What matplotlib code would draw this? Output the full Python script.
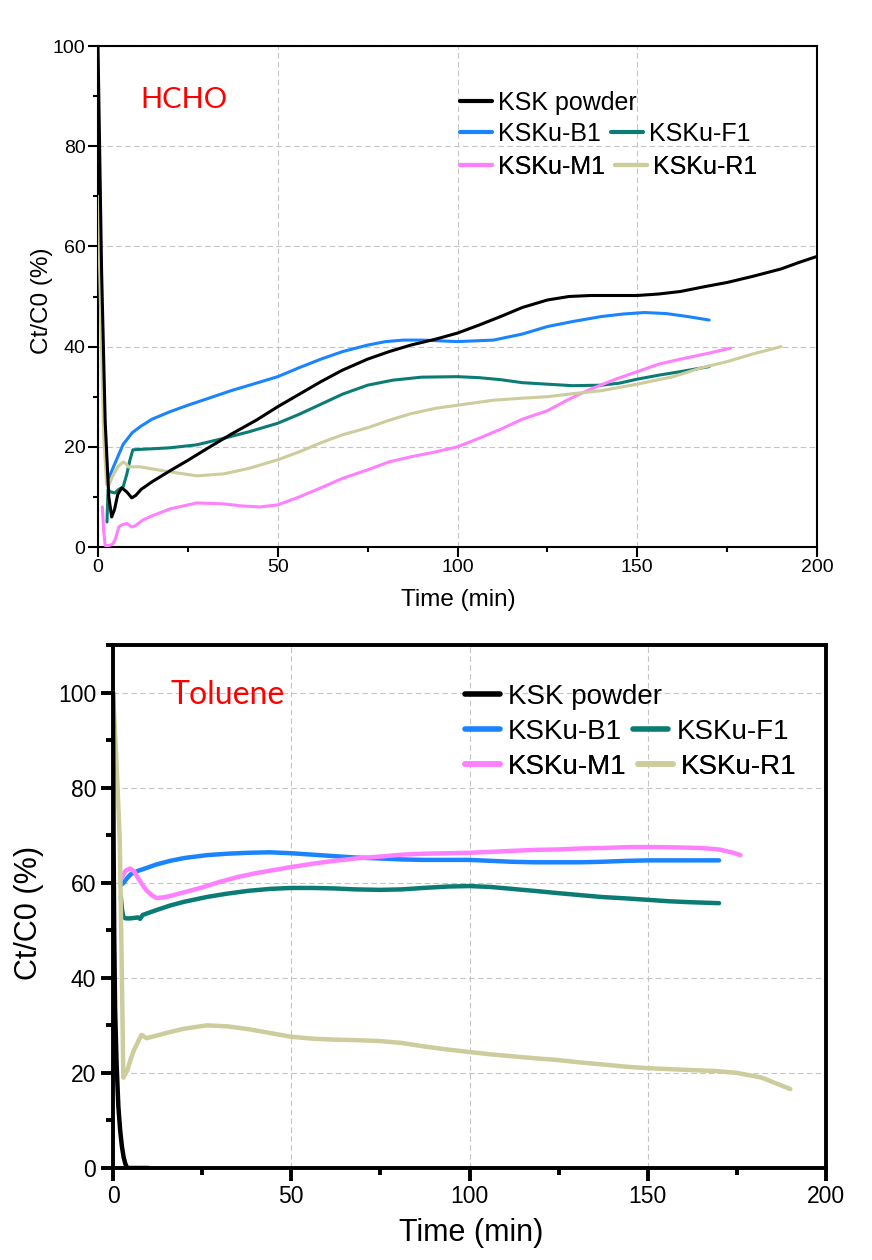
import matplotlib.pyplot as plt
from matplotlib.ticker import MultipleLocator
from matplotlib.lines import Line2D

plt.rcParams['font.family'] = ['Liberation Sans', 'DejaVu Sans']

names = ['KSK powder', 'KSKu-B1', 'KSKu-F1', 'KSKu-M1', 'KSKu-R1']
colors = ['#000000', '#1a84ff', '#0b7c74', '#ff80ff', '#cccc9c']

# ---------- HCHO (top) ----------
hcho_ksk_t = [0, 1, 2, 3, 3.8, 4.6, 5.5, 6.6, 8, 9.4, 10.5, 12, 15, 20, 25, 30, 37, 44, 50, 56, 62, 68, 75,
              81, 87, 94, 100, 106, 112, 118, 125, 131, 137, 144, 150, 156, 162, 169, 175, 182, 190, 195, 200]
hcho_ksk_v = [100, 55, 25, 10, 6, 7.5, 10.5, 11.8, 11, 9.8, 10.3, 11.5, 13, 15.2, 17.3, 19.5, 22.5, 25.3, 28, 30.5,
              33, 35.3, 37.5, 39, 40.3, 41.5, 42.7, 44.3, 46, 47.8, 49.3, 50, 50.2, 50.2, 50.2, 50.5, 51, 52, 52.8,
              54, 55.5, 56.8, 58]

hcho_b1_t = [2.8, 4, 5.5, 7, 8, 9.5, 11.7, 15, 20, 25, 30, 37, 44, 50, 56, 62, 68, 75, 80, 85, 90, 100, 110,
             118, 125, 132, 140, 146, 152, 158, 164, 170]
hcho_b1_v = [13.4, 15.5, 18, 20.5, 21.4, 22.8, 24, 25.5, 27, 28.3, 29.5, 31.2, 32.7, 34, 35.8, 37.5, 39, 40.3,
             41, 41.3, 41.3, 41, 41.3, 42.5, 44, 45, 46, 46.5, 46.8, 46.6, 46, 45.3]

hcho_f1_t = [2.5, 2.8, 3.5, 4.7, 5.8, 7, 8, 8.9, 9.7, 12, 15, 20, 27.5, 35, 42, 50, 56, 62, 68, 75, 82, 90,
             100, 106, 112, 118, 125, 132, 140, 145, 150, 156, 162, 170]
hcho_f1_v = [5, 11.4, 11, 10.8, 11.5, 12, 14.5, 17.4, 19.4, 19.5, 19.6, 19.8, 20.4, 21.7, 23, 24.7, 26.5, 28.5,
             30.5, 32.3, 33.3, 33.9, 34, 33.8, 33.4, 32.8, 32.5, 32.2, 32.3, 32.7, 33.5, 34.3, 35, 36]

hcho_m1_t = [1.2, 1.6, 2, 3, 4, 4.8, 5.8, 6.6, 8, 9.4, 10.5, 12.5, 15, 20, 27.5, 35, 40, 45, 50, 56, 62, 68,
             75, 81, 87, 94, 100, 106, 112, 118, 125, 131, 137, 144, 150, 156, 162, 170, 176]
hcho_m1_v = [8, 3, 0.3, 0.3, 0.5, 1.5, 4, 4.4, 4.7, 4.0, 4.3, 5.4, 6.2, 7.6, 8.8, 8.6, 8.2, 8, 8.4, 10, 11.8,
             13.7, 15.4, 17, 18, 19, 20, 21.7, 23.5, 25.5, 27.2, 29.5, 31.5, 33.5, 35, 36.5, 37.5, 38.7, 39.7]

hcho_r1_t = [0, 0.8, 1.6, 2.4, 3, 4, 5.5, 7, 8, 8.4, 10, 11.7, 15, 20, 27.5, 35, 42, 50, 56, 62, 68, 75, 81,
             87, 94, 100, 110, 118, 125, 132, 140, 150, 160, 168, 175, 182, 190]
hcho_r1_v = [70, 45, 22, 12.5, 12.3, 14, 16, 17, 16.5, 16, 16, 16, 15.6, 15, 14.2, 14.6, 15.7, 17.4, 19, 20.8,
             22.4, 23.8, 25.3, 26.6, 27.7, 28.3, 29.3, 29.7, 30, 30.6, 31.2, 32.5, 34, 35.8, 37, 38.5, 40]

# ---------- Toluene (bottom) ----------
tol_ksk_t = [0, 0.15, 0.35, 0.6, 1, 1.5, 2, 2.5, 3, 3.5, 4, 10]
tol_ksk_v = [100, 70, 48, 33, 22, 13, 8, 4.5, 2.2, 0.8, 0, 0]

tol_b1_t = [2.2, 3, 4, 5, 6, 7, 9, 12, 16, 20, 26.3, 32, 38, 44, 50, 56, 62, 68, 75, 81, 87, 94, 100, 106,
            112, 118, 125, 131, 137, 144, 150, 156, 162, 170]
tol_b1_v = [59.5, 60, 61, 61.8, 62.2, 62.5, 63, 63.8, 64.6, 65.2, 65.8, 66.1, 66.3, 66.4, 66.2, 65.9, 65.6,
            65.3, 65.1, 64.9, 64.8, 64.8, 64.8, 64.6, 64.4, 64.3, 64.3, 64.3, 64.4, 64.6, 64.7, 64.7, 64.7, 64.7]

tol_f1_t = [2.2, 2.5, 2.9, 3.5, 4.8, 6, 7, 7.6, 8.3, 9, 12, 16, 20, 26.3, 32, 38, 44, 50, 56, 62, 68, 75, 81,
            87, 94, 100, 106, 112, 118, 125, 131, 137, 144, 150, 156, 162, 170]
tol_f1_v = [57, 54.5, 52.8, 52.5, 52.5, 52.6, 52.7, 52.4, 53.2, 53.4, 54.2, 55.2, 56, 57, 57.7, 58.3, 58.7,
            58.9, 58.9, 58.8, 58.6, 58.5, 58.6, 58.9, 59.2, 59.3, 59.1, 58.7, 58.3, 57.8, 57.4, 57, 56.7, 56.4,
            56.1, 55.9, 55.7]

tol_m1_t = [2.4, 3.5, 4.8, 6, 7, 8.3, 9.5, 11, 12.2, 14, 16, 20, 25, 30, 35, 40, 50, 56, 62, 68, 75, 81, 87,
            94, 100, 106, 112, 118, 125, 131, 137, 145, 152, 160, 165, 170, 174, 176]
tol_m1_v = [61, 62.5, 63, 62.3, 61, 59.5, 58.3, 57.3, 56.8, 56.9, 57.2, 58, 59, 60.2, 61.2, 62, 63.3, 64,
            64.6, 65.1, 65.5, 65.9, 66.1, 66.2, 66.3, 66.5, 66.7, 66.9, 67, 67.2, 67.3, 67.5, 67.5, 67.4, 67.3,
            67, 66.3, 65.8]

tol_r1_t = [0, 1, 1.9, 2.4, 2.9, 4, 5, 6, 7, 8, 9.4, 12, 16, 20, 26.3, 32, 38, 44, 50, 56, 62, 68, 75, 81,
            87, 94, 100, 106, 112, 118, 125, 131, 137, 144, 150, 156, 162, 169, 175, 182, 190]
tol_r1_v = [100, 85, 69, 45, 19, 20.5, 23, 25, 26.5, 28, 27.3, 27.8, 28.6, 29.3, 30, 29.8, 29.2, 28.4, 27.6,
            27.2, 27.0, 26.9, 26.7, 26.3, 25.6, 24.9, 24.4, 23.9, 23.5, 23.1, 22.7, 22.2, 21.8, 21.3, 21, 20.8,
            20.6, 20.4, 20, 19, 16.6]

hcho = [(hcho_ksk_t, hcho_ksk_v), (hcho_b1_t, hcho_b1_v), (hcho_f1_t, hcho_f1_v),
        (hcho_m1_t, hcho_m1_v), (hcho_r1_t, hcho_r1_v)]
tol = [(tol_ksk_t, tol_ksk_v), (tol_b1_t, tol_b1_v), (tol_f1_t, tol_f1_v),
       (tol_m1_t, tol_m1_v), (tol_r1_t, tol_r1_v)]

fig = plt.figure(figsize=(8.72, 12.6), dpi=100)
ax1 = fig.add_axes([98 / 872, 1 - 547 / 1260, 719 / 872, 501 / 1260])
ax2 = fig.add_axes([113 / 872, 1 - 1168 / 1260, 713 / 872, 523 / 1260])


def setup(ax, ymax, lw_sp, tick_fs, lab_fs, maj_len, min_len, pad):
    ax.set_xlim(0, 200)
    ax.set_ylim(0, ymax)
    ax.xaxis.set_major_locator(MultipleLocator(50))
    ax.xaxis.set_minor_locator(MultipleLocator(25))
    ax.yaxis.set_major_locator(MultipleLocator(20))
    ax.yaxis.set_minor_locator(MultipleLocator(10))
    for s in ax.spines.values():
        s.set_linewidth(lw_sp)
    ax.tick_params(which='major', direction='out', length=maj_len, width=lw_sp,
                   labelsize=tick_fs, pad=pad, top=False, right=False)
    ax.tick_params(which='minor', direction='out', length=min_len, width=lw_sp,
                   top=False, right=False)
    ax.grid(True, which='major', color='#c4c4c4', linestyle=(0, (5, 3)), linewidth=0.8)
    ax.set_axisbelow(True)
    ax.set_xlabel('Time (min)', fontsize=lab_fs)
    ax.set_ylabel('Ct/C0 (%)', fontsize=lab_fs)


setup(ax1, 100, 1.5, 14, 17.5, 7, 3.5, 2)
setup(ax2, 110, 2.8, 16.5, 22, 9, 5, 3)

ax1.xaxis.set_label_coords(0.501, -0.106)
ax1.xaxis.label.set_va('center')
ax1.yaxis.set_label_coords(-0.078, 0.491)
ax1.yaxis.label.set_va('center')
ax2.xaxis.set_label_coords(0.502, -0.124)
ax2.xaxis.label.set_va('center')
ax2.yaxis.set_label_coords(-0.118, 0.488)
ax2.yaxis.label.set_va('center')

# draw coloured series first, black on top
order = [1, 2, 3, 4, 0]
for i in order:
    ax1.plot(hcho[i][0], hcho[i][1], color=colors[i], lw=2.2, solid_capstyle='round', zorder=3)
    ax2.plot(tol[i][0], tol[i][1], color=colors[i], lw=3.2, solid_capstyle='round', zorder=3)

ax1.text(11.7, 89.2, 'HCHO', color='red', fontsize=21, family=['Lato', 'DejaVu Sans'],
         va='center', ha='left')
ax2.text(16, 99.5, 'Toluene', color='red', fontsize=23, family=['Lato', 'DejaVu Sans'],
         va='center', ha='left')


def legend_rows(ax, rows, x0, ys, fs, lw, hl, htp, cs):
    for row, y in zip(rows, ys):
        hs = [Line2D([], [], color=colors[k], lw=lw, solid_capstyle='round') for k in row]
        lg = ax.legend(hs, [names[k] for k in row], loc='center left', bbox_to_anchor=(x0, y),
                       ncol=len(row), frameon=False, fontsize=fs, borderpad=0, borderaxespad=0,
                       handlelength=hl, handletextpad=htp, columnspacing=cs)
        ax.add_artist(lg)


rows = [[0], [1, 2], [3, 4]]
legend_rows(ax1, rows, 0.5035, [0.886, 0.824, 0.758], 18, 3.0, 1.28, 0.24, 0.4)
legend_rows(ax2, rows, 0.4937, [0.9006, 0.8337, 0.7667], 20, 4.0, 1.26, 0.29, 0.4)

fig.savefig('out.png', dpi=100)
